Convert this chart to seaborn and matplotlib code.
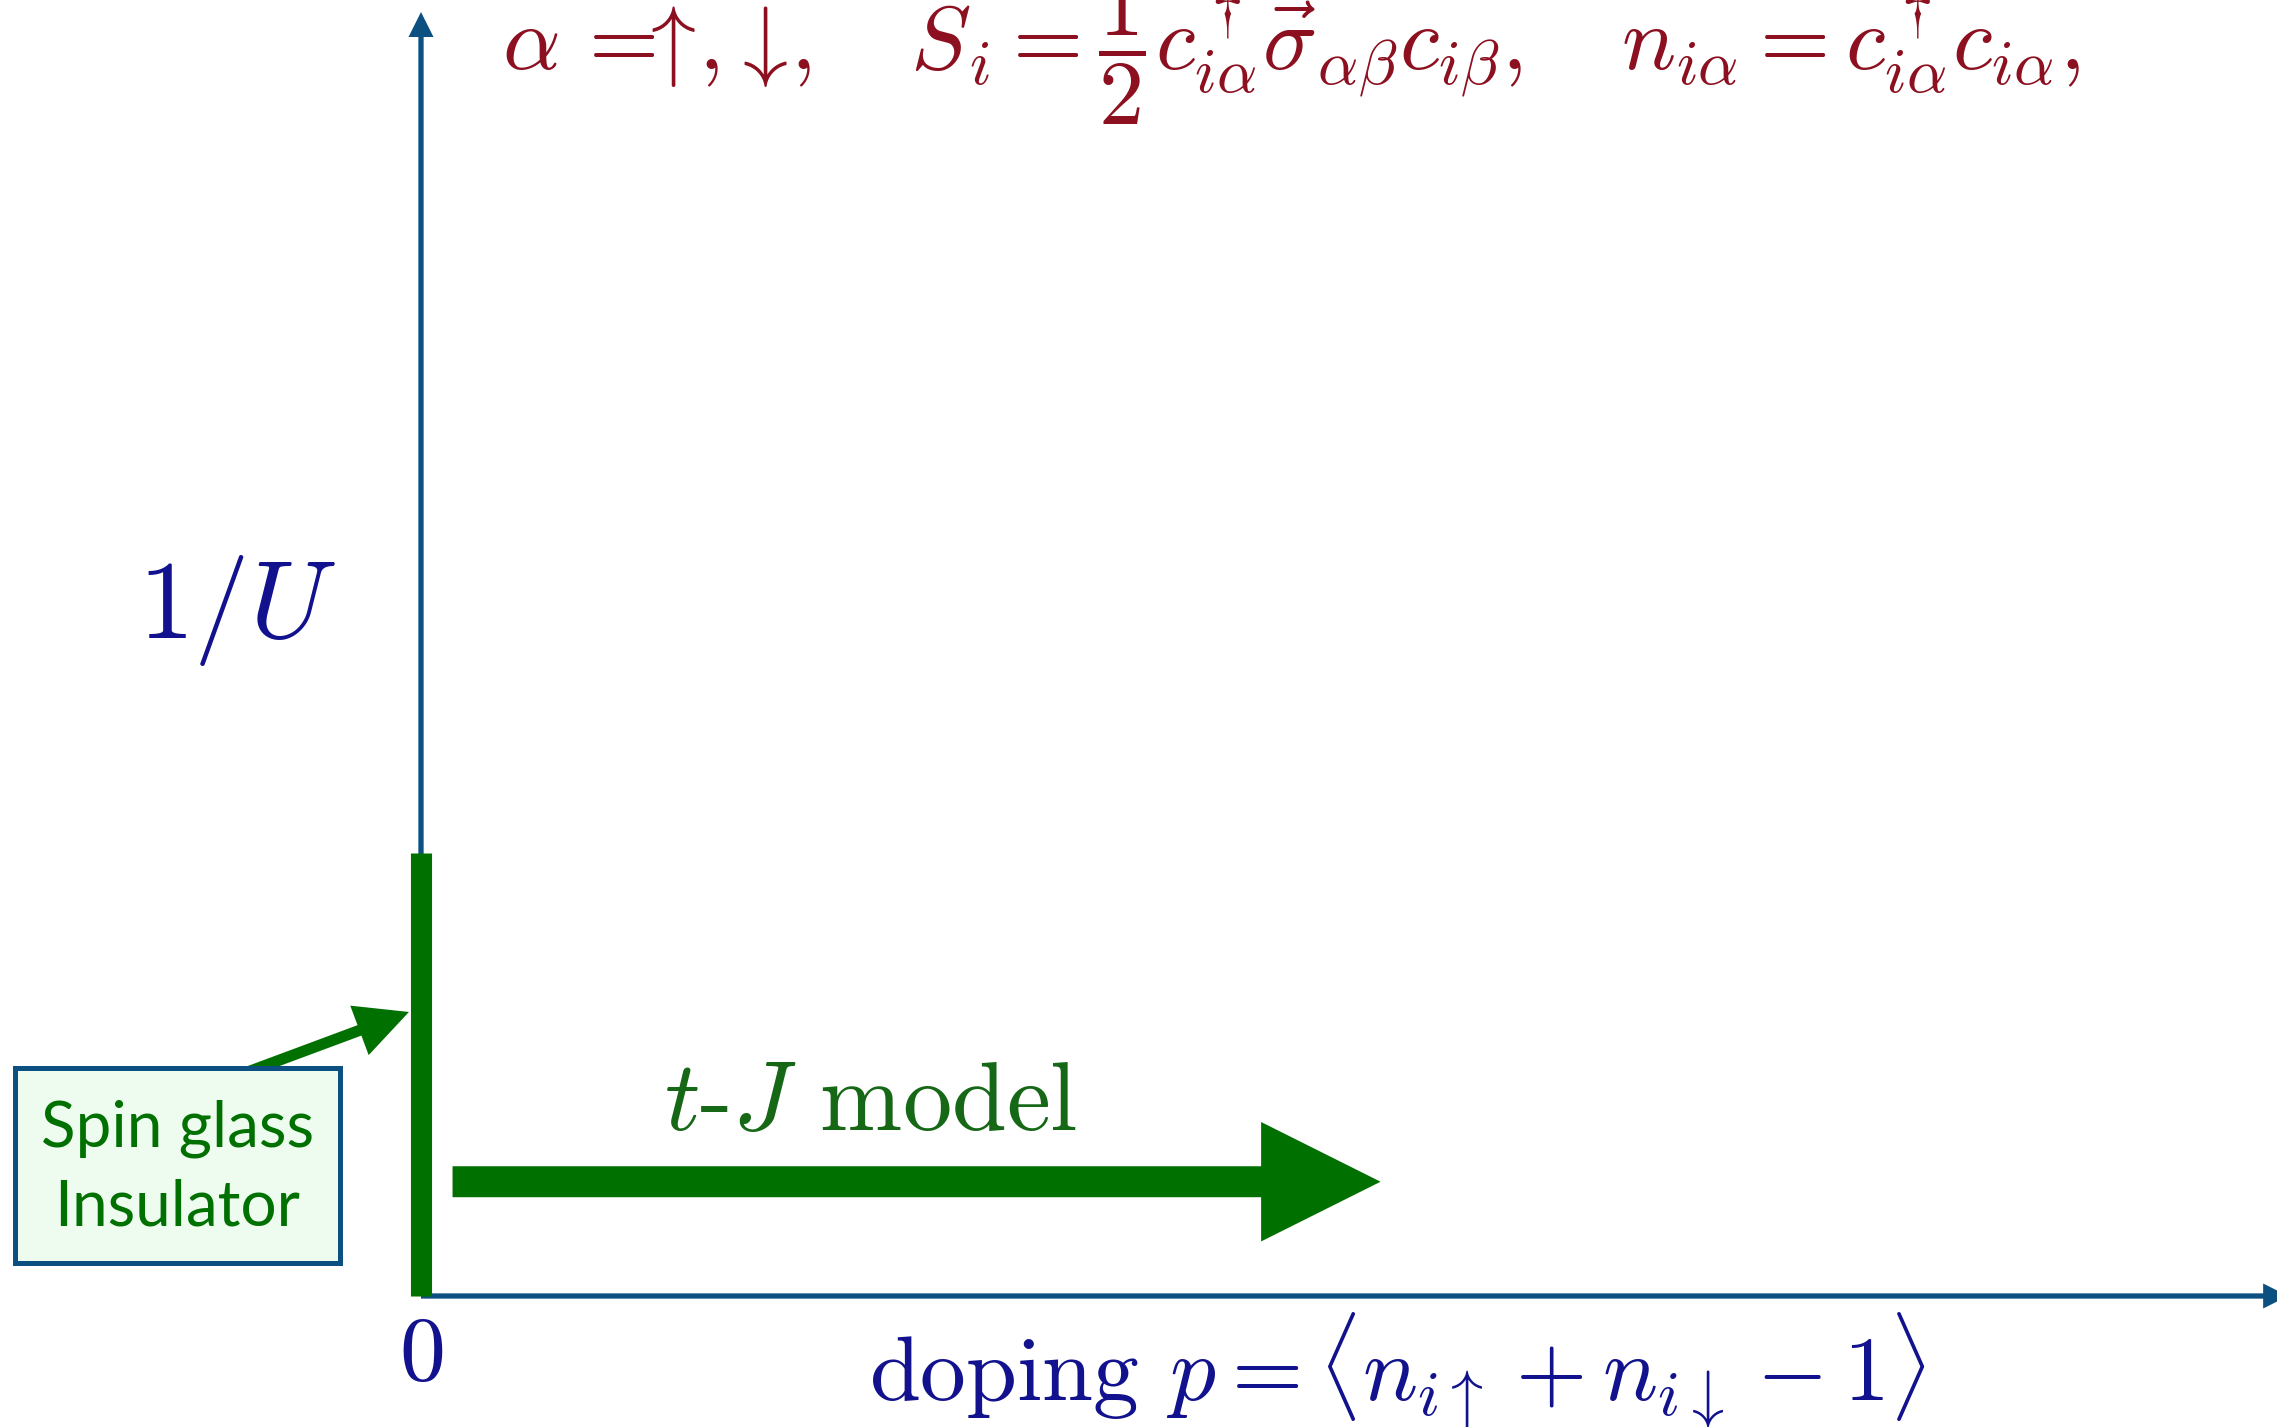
import matplotlib
matplotlib.use("Agg")
import matplotlib.pyplot as plt
from matplotlib.patches import Rectangle
import seaborn as sns
import pandas as pd

# ---- data (schematic phase diagram: doping p vs 1/U) ----
x_axis_label = r"doping $p = \langle n_{i\uparrow} + n_{i\downarrow} - 1\rangle$"
y_axis_label = r"$1/U$"
origin_label = r"$0$"
top_formula = (r"$\alpha\, =\!\!\!\uparrow\!,\!\downarrow\!,\quad \vec{S}_i = \dfrac{1}{2}c^\dagger_{i\alpha}"
               r"\vec{\sigma}_{\alpha\beta}c_{i\beta},\quad n_{i\alpha} = c^\dagger_{i\alpha}c_{i\alpha},$")
regime_names = ["Spin glass\nInsulator", r"$t$-$J$ model"]
# spin-glass insulator segment at p = 0
sg_p = [0.0, 0.0]
sg_invU = [0.0, 0.345]
# t-J model arrow (small doping, small 1/U)
tj_p = [0.017, 0.517]
tj_invU = [0.089, 0.089]
# pointer from the label box to the spin-glass segment
ptr_p = [-0.098, -0.0065]
ptr_invU = [0.172, 0.2212]
# label box extent
box_p = [-0.2188, -0.0436]
box_invU = [0.0257, 0.1776]

# ---- style ----
sns.set_theme(style="white")
plt.rcParams["mathtext.fontset"] = "cm"
plt.rcParams["font.family"] = ["cmr10", "DejaVu Sans"]
plt.rcParams["axes.formatter.use_mathtext"] = True

AXIS = "#0C5082"
GREEN = "#007000"
TEXT_GREEN = "#166716"
RED = "#8C1020"
NAVY = "#12128E"
BOX_FILL = "#EEFCF0"

fig = plt.figure(figsize=(22.77, 14.27), dpi=100)
ax = fig.add_axes([421 / 2277, 1 - 1296 / 1427, 1 - 421 / 2277, (1296 - 12) / 1427])
ax.set_xlim(0, 1)
ax.set_ylim(0, 1)
ax.axis("off")

# axes with arrow heads
ax.annotate("", xy=(0, 1), xytext=(0, 0), xycoords="axes fraction",
            arrowprops=dict(arrowstyle="simple,head_length=18,head_width=18,tail_width=3.8",
                            mutation_scale=1, color=AXIS, lw=0, shrinkA=0, shrinkB=0),
            annotation_clip=False)
ax.annotate("", xy=(1.006, 0), xytext=(0, 0), xycoords="axes fraction",
            arrowprops=dict(arrowstyle="simple,head_length=18,head_width=18,tail_width=3.8",
                            mutation_scale=1, color=AXIS, lw=0, shrinkA=0, shrinkB=0),
            annotation_clip=False)

# spin-glass segment
sg = pd.DataFrame({"p": sg_p, "invU": sg_invU})
sns.lineplot(data=sg, x="p", y="invU", estimator=None, sort=False, color=GREEN,
             lw=15.2, solid_capstyle="butt", ax=ax, clip_on=False, zorder=5)

# t-J arrow
ax.annotate("", xy=(tj_p[1], tj_invU[1]), xytext=(tj_p[0], tj_invU[0]),
            arrowprops=dict(arrowstyle="simple,head_length=86,head_width=86,tail_width=22.3",
                            mutation_scale=1, color=GREEN, lw=0, shrinkA=0, shrinkB=0))
ax.text((tj_p[0] + tj_p[1]) / 2 - 0.025, 0.1293, regime_names[1], color=TEXT_GREEN,
        fontsize=71, ha="center", va="baseline")

# pointer arrow from box
ax.annotate("", xy=(ptr_p[1], ptr_invU[1]), xytext=(ptr_p[0], ptr_invU[0]),
            arrowprops=dict(arrowstyle="simple,head_length=38,head_width=38,tail_width=8",
                            mutation_scale=1, color=GREEN, lw=0, shrinkA=0, shrinkB=0),
            annotation_clip=False, zorder=3)

# label box
rect = Rectangle((box_p[0], box_invU[0]), box_p[1] - box_p[0], box_invU[1] - box_invU[0],
                 facecolor=BOX_FILL, edgecolor=AXIS, lw=3.6, clip_on=False, zorder=6)
ax.add_patch(rect)
ax.text((box_p[0] + box_p[1]) / 2, (box_invU[0] + box_invU[1]) / 2 - 0.002, regime_names[0],
        color=GREEN, fontsize=46, family="Lato", ha="center", va="center",
        linespacing=1.42, zorder=7)

# axis labels
ax.text(-0.0991, 0.534, y_axis_label, color=NAVY, fontsize=80, ha="center", va="center")
ax.text(0.0, -0.048, origin_label, color=NAVY, fontsize=66, ha="center", va="center")
ax.text(0.526, -0.0818, x_axis_label, color=NAVY, fontsize=66, ha="center", va="baseline")

# top formula
ax.text(0.0436, 0.9548, top_formula, color=RED, fontsize=65, ha="left", va="baseline")

fig.savefig("out.png", dpi=100)
